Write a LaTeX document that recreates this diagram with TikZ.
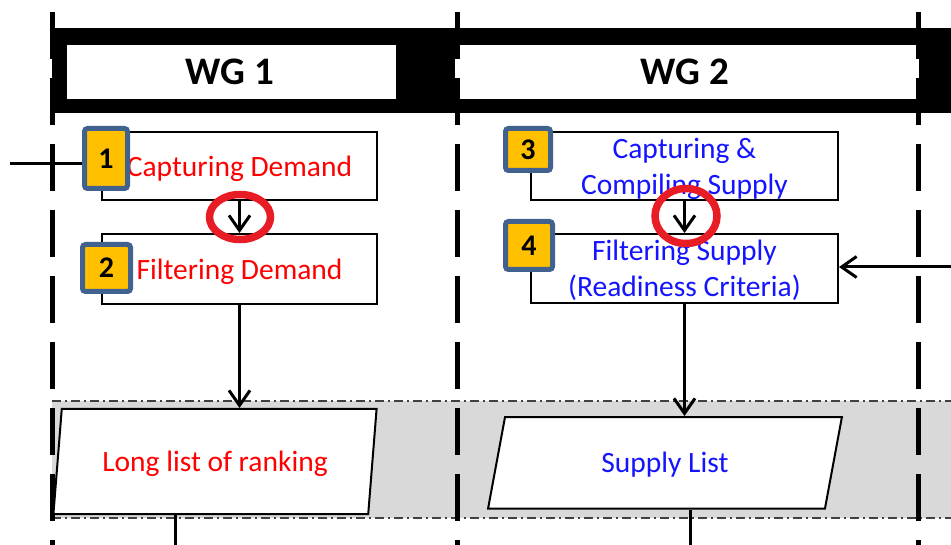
\documentclass[tikz,border=0pt]{standalone}
\usepackage{fontspec}
\setmainfont{Carlito}
\usetikzlibrary{arrows.meta,shapes.geometric}

\definecolor{badgefill}{RGB}{255,192,0}
\definecolor{badgeedge}{RGB}{65,98,143}
\definecolor{demandred}{RGB}{255,0,0}
\definecolor{supplyblue}{RGB}{20,20,255}
\definecolor{ringred}{RGB}{232,28,36}
\definecolor{bandgray}{RGB}{217,217,217}

\begin{document}
\begin{tikzpicture}[x=1pt,y=-1pt,
  lane/.style={line width=5pt,dash pattern=on 47pt off 19pt},
  bandedge/.style={line width=1.6pt,black!75,dash pattern=on 9pt off 4pt on 2pt off 4pt},
  wgtext/.style={font=\fontsize{39}{44}\selectfont\bfseries,inner sep=0pt},
  bodytext/.style={font=\fontsize{29.5}{36}\selectfont,align=center,text depth=0pt},
  procbox/.style={draw,line width=2pt,fill=white,bodytext,inner sep=0pt},
  listbox/.style={draw,line width=2pt,fill=white,bodytext,inner sep=0pt,
    shape=trapezium,trapezium stretches=true},
  badge/.style={draw=badgeedge,line width=5pt,fill=badgefill,rounded corners=3pt,
    inner sep=0pt,font=\fontsize{30}{32}\selectfont\bfseries},
  flow/.style={line width=3pt,-{Straight Barb[length=15pt,width=21pt]}},
  flowline/.style={line width=3pt},
  ring/.style={draw=ringred,line width=7.5pt}]

\useasboundingbox (0,0) rectangle (951,545);

% output band behind the lists
\fill[bandgray] (52,401) rectangle (951,518);
\draw[bandedge] (52,401) -- (951,401);
\draw[bandedge] (52,518) -- (951,518);

% swimlane header
\fill[black] (52,28) rectangle (951,113);
\fill[white] (67,45) rectangle (396,99);
\fill[white] (455,45) rectangle (919,99);
\node[wgtext] (wg1) at (230,72) {WG 1};
\node[wgtext] (wg2) at (685,72) {WG 2};

% lane separators
\foreach \x in {52,457,918} \draw[lane] (\x,12) -- (\x,550);

% process steps
\node[procbox,text=demandred,minimum width=275pt,minimum height=68pt] (cd) at (239.5,166) {Capturing Demand};
\node[procbox,text=demandred,minimum width=275pt,minimum height=70pt] (fd) at (239.5,269) {Filtering Demand};
\node[procbox,text=supplyblue,minimum width=307pt,minimum height=68pt] (cs) at (684.5,166) {Capturing \&\\Compiling Supply};
\node[procbox,text=supplyblue,minimum width=307pt,minimum height=69pt] (fs) at (684.5,268.5) {Filtering Supply\\(Readiness Criteria)};

% resulting lists
\node[listbox,text=demandred,trapezium left angle=73.3,trapezium right angle=106.7,
  minimum width=324pt,minimum height=105pt] (ll) at (215,461.5) {Long list of ranking};
\node[listbox,text=supplyblue,trapezium left angle=71.8,trapezium right angle=108.2,
  minimum width=354pt,minimum height=91.5pt] (sl) at (665,462.75) {Supply List};

% flows
\coordinate (lin) at (10,164);
\coordinate (rin) at (951,267);
\coordinate (llout) at (175,550);
\coordinate (slout) at (690,550);
\draw[flow] (lin) -- (lin -| cd.west);
\draw[flow] (rin) -- (rin -| fs.east);
\draw[flow] (cd) -- (fd);
\draw[flow] (cs) -- (fs);
\draw[flow] (fd.south) -- (fd.south |- ll.north);
\draw[flow] (fs.south) -- (fs.south |- sl.north);
\draw[flowline] (ll.south -| llout) -- (llout);
\draw[flowline] (sl.south -| slout) -- (slout);

% step numbers
\node[badge,minimum width=43pt,minimum height=60pt] (b1) at (106,158.5) {1};
\node[badge,minimum width=48pt,minimum height=47pt] (b2) at (106.5,268) {2};
\node[badge,minimum width=45pt,minimum height=42pt] (b3) at (528,149.5) {3};
\node[badge,minimum width=47pt,minimum height=48pt] (b4) at (529,245.5) {4};

% highlighted hand-overs
\draw[ring] (240,217) ellipse [x radius=30.5pt,y radius=22.5pt];
\draw[ring] (686,216) ellipse [x radius=31pt,y radius=27.5pt];
\end{tikzpicture}
\end{document}
